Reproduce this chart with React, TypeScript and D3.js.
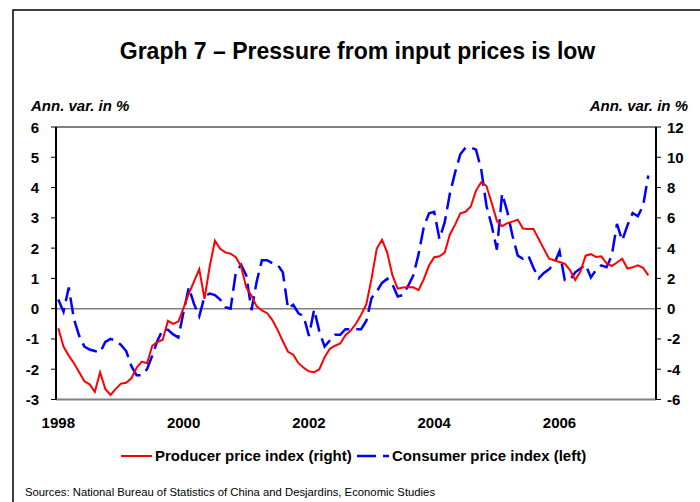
import React from "react";
import * as d3 from "d3";

const ppi: number[] = [
  -1.3, -2.5, -3.1, -3.6, -4.2, -4.8, -5.0, -5.5, -4.2, -5.3,
  -5.7, -5.3, -4.95, -4.9, -4.6, -3.9, -3.5, -3.6, -2.45, -2.2,
  -2.05, -0.8, -1.0, -0.85, 0.05, 1.0, 1.8, 2.6, 0.65, 2.8,
  4.5, 3.95, 3.72, 3.63, 3.4, 2.8, 1.4, 0.85, 0.15, -0.12,
  -0.3, -0.75, -1.4, -2.15, -2.85, -3.04, -3.6, -3.9, -4.14, -4.2,
  -4.0, -3.2, -2.65, -2.45, -2.3, -1.75, -1.45, -1.0, -0.4, 0.3,
  2.0, 3.97, 4.55, 3.7, 2.2, 1.32, 1.4, 1.41, 1.41, 1.22,
  1.95, 2.85, 3.4, 3.46, 3.7, 4.9, 5.55, 6.3, 6.4, 6.75,
  7.8, 8.35, 8.1, 7.0, 5.8, 5.45, 5.65, 5.75, 5.88, 5.3,
  5.27, 5.27, 4.6, 3.95, 3.3, 3.2, 3.08, 2.97, 2.55, 1.9,
  2.45, 3.5, 3.6, 3.42, 3.46, 3.0, 2.82, 3.05, 3.3, 2.65,
  2.73, 2.86, 2.7, 2.2,
];

const cpi: number[] = [
  0.3, -0.1, 0.7, -0.35, -0.9, -1.25, -1.35, -1.4, -1.45, -1.1,
  -1.0, -1.05, -1.2, -1.4, -1.9, -2.2, -2.2, -2.0, -1.55, -1.05,
  -0.7, -0.7, -0.85, -0.95, -0.1, 0.7, 0.15, -0.25, 0.4, 0.5,
  0.45, 0.3, 0.05, 0.0, 1.2, 1.45, 1.1, -0.05, 0.9, 1.6,
  1.6, 1.5, 1.45, 1.2, 0.0, 0.13, -0.15, -0.25, -0.9, -0.03,
  -0.75, -1.25, -1.05, -0.86, -0.86, -0.68, -0.68, -0.68, -0.68, -0.4,
  0.35, 0.57, 0.85, 0.99, 0.8, 0.4, 0.45, 0.75, 1.1, 1.8,
  2.7, 3.15, 3.2, 2.3, 2.85, 3.8, 4.5, 5.1, 5.32, 5.32,
  5.25, 4.6, 3.4, 2.75, 1.95, 3.8, 3.2, 2.4, 1.75, 1.65,
  1.76, 1.35, 1.0, 1.18, 1.3, 1.5, 1.9, 0.95, 0.95, 1.2,
  1.33, 1.45, 1.03, 1.28, 1.43, 1.37, 1.75, 2.8, 2.25, 2.75,
  3.16, 3.05, 3.4, 4.4,
];

const yearLabels: string[] = ["1998", "2000", "2002", "2004", "2006"];
const yearMonthIndex: number[] = [0, 24, 48, 72, 96];
const leftTicks: number[] = [6, 5, 4, 3, 2, 1, 0, -1, -2, -3];
const rightTicks: number[] = [12, 10, 8, 6, 4, 2, 0, -2, -4, -6];

const title = "Graph 7 \u2013 Pressure from input prices is low";
const axisTitle = "Ann. var. in %";
const legendPPI = "Producer price index (right)";
const legendCPI = "Consumer price index (left)";
const source = "Sources: National Bureau of Statistics of China and Desjardins, Economic Studies";

const FONT = "'Liberation Sans', Arial, Helvetica, sans-serif";

export default function App() {
  const W = 700, H = 502;
  const plotL = 56, plotR = 656, plotT = 127, plotB = 399.5;

  const x = d3.scaleLinear().domain([0, 113]).range([58.3, 648.3]);
  const yL = d3.scaleLinear().domain([-3, 6]).range([plotB, plotT]);
  const yR = d3.scaleLinear().domain([-6, 12]).range([plotB, plotT]);

  const ppiLine = d3.line<number>().x((_, i) => x(i)).y((d) => yR(d))(ppi) || "";
  const cpiLine = d3.line<number>().x((_, i) => x(i)).y((d) => yL(d))(cpi) || "";

  return (
    <div style={{ position: "absolute", left: 0, top: 0 }}>
      <svg width={W} height={H} style={{ display: "block", background: "#fff" }} fontFamily={FONT}>
        <rect x={0} y={0} width={W} height={H} fill="#fff" />
        {/* frame */}
        <rect x={13} y={10} width={720} height={520} fill="none" stroke="#000" strokeWidth={1.5} />

        <text x={357.5} y={59} textAnchor="middle" fontSize={23} fontWeight="bold" fill="#000">{title}</text>

        <text x={31} y={110.5} fontSize={15} fontWeight="bold" fontStyle="italic" fill="#000">{axisTitle}</text>
        <text x={688} y={110.5} textAnchor="end" fontSize={15} fontWeight="bold" fontStyle="italic" fill="#000">{axisTitle}</text>

        {/* plot borders */}
        <line x1={plotL} x2={plotR} y1={plotT} y2={plotT} stroke="#000" strokeWidth={1} />
        <line x1={plotL} x2={plotR} y1={yL(0)} y2={yL(0)} stroke="#808080" strokeWidth={1.5} />
        <line x1={plotL} x2={plotR} y1={plotB} y2={plotB} stroke="#808080" strokeWidth={2} />

        {/* left axis */}
        <line x1={plotL} x2={plotL} y1={plotT} y2={plotB} stroke="#000" strokeWidth={2} />
        {leftTicks.map((t) => (
          <g key={"l" + t}>
            <line x1={plotL - 5} x2={plotL} y1={yL(t)} y2={yL(t)} stroke="#000" strokeWidth={1} />
            <text x={39} y={yL(t) + 5.5} textAnchor="end" fontSize={15} fontWeight="bold" fill="#000">{t}</text>
          </g>
        ))}

        {/* right axis */}
        <line x1={plotR} x2={plotR} y1={plotT} y2={plotB} stroke="#000" strokeWidth={2} />
        {rightTicks.map((t) => (
          <g key={"r" + t}>
            <line x1={plotR} x2={plotR + 5} y1={yR(t)} y2={yR(t)} stroke="#000" strokeWidth={1} />
            <text x={667} y={yR(t) + 5.5} textAnchor="start" fontSize={15} fontWeight="bold" fill="#000">{t}</text>
          </g>
        ))}

        {/* year labels */}
        {yearLabels.map((lab, i) => (
          <text key={lab} x={x(yearMonthIndex[i])} y={428} textAnchor="middle" fontSize={15} fontWeight="bold" fill="#000">{lab}</text>
        ))}

        {/* series */}
        <path d={cpiLine} fill="none" stroke="#0000ff" strokeWidth={2.5} strokeDasharray="17,7" />
        <path d={ppiLine} fill="none" stroke="#ff0000" strokeWidth={2} />

        {/* legend */}
        <line x1={121} x2={152} y1={456} y2={456} stroke="#ff0000" strokeWidth={2} />
        <text x={155} y={461} fontSize={15} fontWeight="bold" fill="#000">{legendPPI}</text>
        <line x1={357} x2={389} y1={456} y2={456} stroke="#0000ff" strokeWidth={2.5} strokeDasharray="19,7" />
        <text x={392} y={461} fontSize={15} fontWeight="bold" fill="#000">{legendCPI}</text>

        <text x={25} y={496} fontSize={11.3} fill="#000">{source}</text>
      </svg>
    </div>
  );
}
